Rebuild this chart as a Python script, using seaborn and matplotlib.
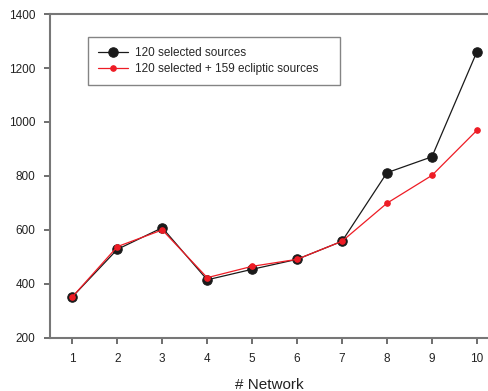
import matplotlib
matplotlib.use("Agg")
import matplotlib.pyplot as plt
import seaborn as sns
import pandas as pd

networks = [1, 2, 3, 4, 5, 6, 7, 8, 9, 10]
selected = [352, 528, 608, 415, 454, 491, 558, 812, 871, 1260]
with_ecliptic = [352, 538, 600, 423, 465, 491, 558, 699, 802, 969]
labels = ["120 selected sources", "120 selected + 159 ecliptic sources"]

sns.set_style("ticks")
plt.rcParams['font.family'] = ['Liberation Sans', 'DejaVu Sans']

fig, ax = plt.subplots(figsize=(4.89, 3.91), dpi=100)
fig.subplots_adjust(left=0.103, right=1.0, top=0.964, bottom=0.136)

df1 = pd.DataFrame({"Network": networks, "value": selected})
df2 = pd.DataFrame({"Network": networks, "value": with_ecliptic})
sns.lineplot(data=df1, x="Network", y="value", color="#1a1a1a", lw=0.9,
             marker="o", markersize=6.8, markeredgecolor="#1a1a1a", label=labels[0], ax=ax)
sns.lineplot(data=df2, x="Network", y="value", color="#ee1c25", lw=0.9,
             marker="o", markersize=4, markeredgecolor="#ee1c25", label=labels[1], ax=ax)

ax.set_xlim(0.51, 10.27)
ax.set_ylim(200, 1400)
ax.set_xticks(networks)
ax.set_yticks([200, 400, 600, 800, 1000, 1200, 1400])
ax.set_xlabel("# Network", fontsize=11, color="#222222", labelpad=9)
ax.set_ylabel("")
ax.tick_params(colors="#555555", labelcolor="#222222", labelsize=8.5, width=1.2, length=4)
ax.tick_params(axis="x", pad=7)
ax.tick_params(axis="y", pad=7)
for side in ["left", "bottom", "top"]:
    ax.spines[side].set_color("#777777")
    ax.spines[side].set_linewidth(1.5)
ax.spines["right"].set_visible(False)

leg = ax.legend(loc="upper left", bbox_to_anchor=(0.0866, 0.929, 0.574, 0.0), mode="expand",
                borderaxespad=0, fontsize=8.5, frameon=True, fancybox=False,
                borderpad=0.85, labelspacing=0.3, handlelength=2.5, handletextpad=0.6)
leg.get_frame().set_edgecolor("#666666")
leg.get_frame().set_linewidth(1.0)

plt.savefig("out.png", dpi=100)
